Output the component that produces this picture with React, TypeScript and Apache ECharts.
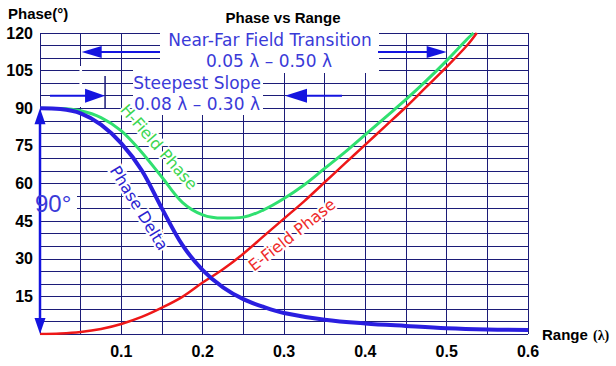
import React, { useEffect, useRef } from 'react';
import * as echarts from 'echarts';

// Range (λ) sample points and phase values (degrees)
const deltaRange = [0, 0.025, 0.05, 0.075, 0.1, 0.125, 0.15, 0.175, 0.2, 0.225, 0.25, 0.275, 0.3, 0.35, 0.4, 0.45, 0.5, 0.55, 0.6];
const phaseDelta = [90, 89.7, 88, 83.5, 76, 65.3, 50, 35.5, 25.5, 18.6, 13.9, 10.8, 8.4, 5.7, 4.2, 3.2, 2.3, 1.8, 1.6];

const hRange = [0, 0.025, 0.05, 0.075, 0.1, 0.125, 0.15, 0.175, 0.2, 0.225, 0.25, 0.275, 0.3, 0.325, 0.35, 0.375, 0.4, 0.425, 0.45, 0.475, 0.5, 0.525, 0.533];
const hFieldPhase = [90, 89.9, 89, 86.3, 81, 72.5, 62.5, 52.5, 47.5, 46.2, 46.6, 49.5, 54, 59.5, 66, 72.5, 79.5, 86.5, 93.5, 101, 109, 117.5, 120];

const eRange = [0, 0.025, 0.05, 0.075, 0.1, 0.125, 0.15, 0.175, 0.2, 0.225, 0.25, 0.275, 0.3, 0.325, 0.35, 0.375, 0.4, 0.425, 0.45, 0.475, 0.5, 0.525, 0.537];
const eFieldPhase = [0, 0.2, 0.8, 2, 4, 6.8, 10.5, 14.8, 20.5, 25.8, 32, 39, 46, 53, 60.5, 68, 75.5, 83, 90.5, 98.5, 106.5, 115, 120];

const yTickLabels = [15, 30, 45, 60, 75, 90, 105, 120];
const xTickLabels = [0.1, 0.2, 0.3, 0.4, 0.5, 0.6];

const nearFar = [0.05, 0.5];
const steepest = [0.08, 0.3];

const GRID = '#1c1c78';
const ANN = '#1414e0';
const ANN_TEXT = '#3a3ad8';
const SANS = '"Liberation Sans", Arial, sans-serif';
const ANN_FONT = '"DejaVu Sans", Verdana, sans-serif';

export default function App() {
  const ref = useRef<HTMLDivElement>(null);
  useEffect(() => {
    document.body.style.margin = '0';
    const chart = echarts.init(ref.current!, null, { renderer: 'svg' });
    const pair = (xs: number[], ys: number[]) => xs.map((x, i) => [x, ys[i]]);
    chart.setOption({
      animation: false,
      backgroundColor: '#ffffff',
      grid: { left: 40, right: 88, top: 33, bottom: 32 },
      xAxis: {
        type: 'value', min: 0, max: 0.6, interval: 0.05,
        axisLine: { show: false }, axisTick: { show: false },
        splitLine: { show: true, lineStyle: { color: GRID, width: 1 } },
        axisLabel: {
          margin: 9, color: '#000', fontWeight: 'bold', fontSize: 16, fontFamily: SANS,
          formatter: (v: number) => {
            const t = xTickLabels.find((k) => Math.abs(k - v) < 1e-6);
            return t === undefined ? '' : t.toFixed(1);
          },
        },
      },
      yAxis: {
        type: 'value', min: 0, max: 120, interval: 5,
        axisLine: { show: false }, axisTick: { show: false },
        splitLine: { show: true, lineStyle: { color: GRID, width: 1 } },
        axisLabel: {
          margin: 7, color: '#000', fontWeight: 'bold', fontSize: 16, fontFamily: SANS,
          formatter: (v: number) => (yTickLabels.some((k) => Math.abs(k - v) < 1e-6) ? String(Math.round(v)) : ''),
        },
      },
      series: [
        { name: 'H-Field Phase', type: 'line', data: pair(hRange, hFieldPhase), smooth: 0.35, showSymbol: false, lineStyle: { color: '#30e070', width: 3 }, z: 3 },
        { name: 'E-Field Phase', type: 'line', data: pair(eRange, eFieldPhase), smooth: 0.35, showSymbol: false, lineStyle: { color: '#ee1818', width: 2.5 }, z: 4 },
        { name: 'Phase Delta', type: 'line', data: pair(deltaRange, phaseDelta), smooth: 0.35, showSymbol: false, lineStyle: { color: '#2a1ee0', width: 4 }, z: 5 },
      ],
    });

    const p = (x: number, y: number) => chart.convertToPixel({ gridIndex: 0 }, [x, y]) as number[];
    const nfL = p(nearFar[0], 0)[0];
    const nfR = p(nearFar[1], 0)[0];
    const ssL = p(steepest[0], 0)[0];
    const ssR = p(steepest[1], 0)[0];
    const x0 = p(0, 0)[0];
    const y0 = p(0, 0)[1];
    const y90 = p(0, 90)[1];
    const y95 = p(0, 95)[1];
    const nfY = 52;

    const rect = (x: number, y: number, w: number, h: number) => ({
      type: 'rect', z: 1, silent: true, shape: { x, y, width: w, height: h }, style: { fill: '#ffffff' },
    });
    const line = (x1: number, y1: number, x2: number, y2: number, color = ANN, w = 2) => ({
      type: 'line', z: 6, silent: true, shape: { x1, y1, x2, y2 }, style: { stroke: color, lineWidth: w },
    });
    const tri = (pts: number[][]) => ({ type: 'polygon', z: 6, silent: true, shape: { points: pts }, style: { fill: ANN } });
    const text = (t: string, x: number, y: number, opts: any = {}) => ({
      type: 'text', z: 10, silent: true, x, y, rotation: opts.rotation || 0,
      style: {
        text: t, fill: opts.fill || ANN_TEXT, font: opts.font || `17px ${ANN_FONT}`,
        align: opts.align || 'center', verticalAlign: 'middle',
        stroke: opts.stroke, lineWidth: opts.lineWidth || 0,
      },
    });

    chart.setOption({
      graphic: [
        rect(160, 32, 219, 41),
        rect(133, 62, 130, 53),
        rect(nfL - 1.2, 66, 2.6, 41),
        rect(32, 188, 45, 28),
        // Near-Far arrows
        line(nfL + 20, nfY, 160, nfY),
        tri([[nfL + 1, nfY], [nfL + 21, nfY - 6], [nfL + 21, nfY + 6]]),
        line(378, nfY, nfR - 19, nfY),
        tri([[nfR, nfY], [nfR - 20, nfY - 6], [nfR - 20, nfY + 6]]),
        // Steepest slope arrows
        line(ssL, 76, ssL, y90, GRID, 1.5),
        line(50, y95, ssL - 19, y95),
        tri([[ssL, y95], [ssL - 20, y95 - 7], [ssL - 20, y95 + 7]]),
        line(ssR + 21, y95, 342, y95),
        tri([[ssR + 1, y95], [ssR + 23, y95 - 7], [ssR + 23, y95 + 7]]),
        // 90 degree arrow
        line(x0, y90 + 12, x0, y0 - 12, ANN, 2.5),
        tri([[x0, y90], [x0 - 5.5, y90 + 16], [x0 + 5.5, y90 + 16]]),
        tri([[x0, y0], [x0 - 5.5, y0 - 16], [x0 + 5.5, y0 - 16]]),
        // texts
        text('Phase vs Range', 283, 17, { fill: '#000', font: `bold 15px ${SANS}` }),
        text('Phase(°)', 8, 13, { fill: '#000', font: `bold 15px ${SANS}`, align: 'left' }),
        text('Range', 542, 334, { fill: '#000', font: `bold 15px ${SANS}`, align: 'left' }),
        text('(λ)', 593, 335, { fill: '#000', font: `bold 14px "Liberation Serif", serif`, align: 'left' }),
        text('Near-Far Field Transition', 270, 40),
        text('0.05 λ – 0.50 λ', 269, 61),
        text('Steepest Slope', 197, 83),
        text('0.08 λ – 0.30 λ', 197, 104),
        text('90°', 35, 203, { font: `24px ${SANS}`, align: 'left' }),
        text('H-Field Phase', 159, 147, { fill: '#3cd650', font: `16px ${ANN_FONT}`, rotation: -0.85, stroke: '#ffffff', lineWidth: 4 }),
        text('Phase Delta', 139, 208, { fill: '#2a22d0', font: `16px ${ANN_FONT}`, rotation: -1.02, stroke: '#ffffff', lineWidth: 4 }),
        text('E-Field Phase', 292, 235, { fill: '#ee2a2a', font: `16px ${ANN_FONT}`, rotation: 0.67, stroke: '#ffffff', lineWidth: 4 }),
      ],
    });
    return () => chart.dispose();
  }, []);
  return <div ref={ref} style={{ width: 616, height: 366 }} />;
}
